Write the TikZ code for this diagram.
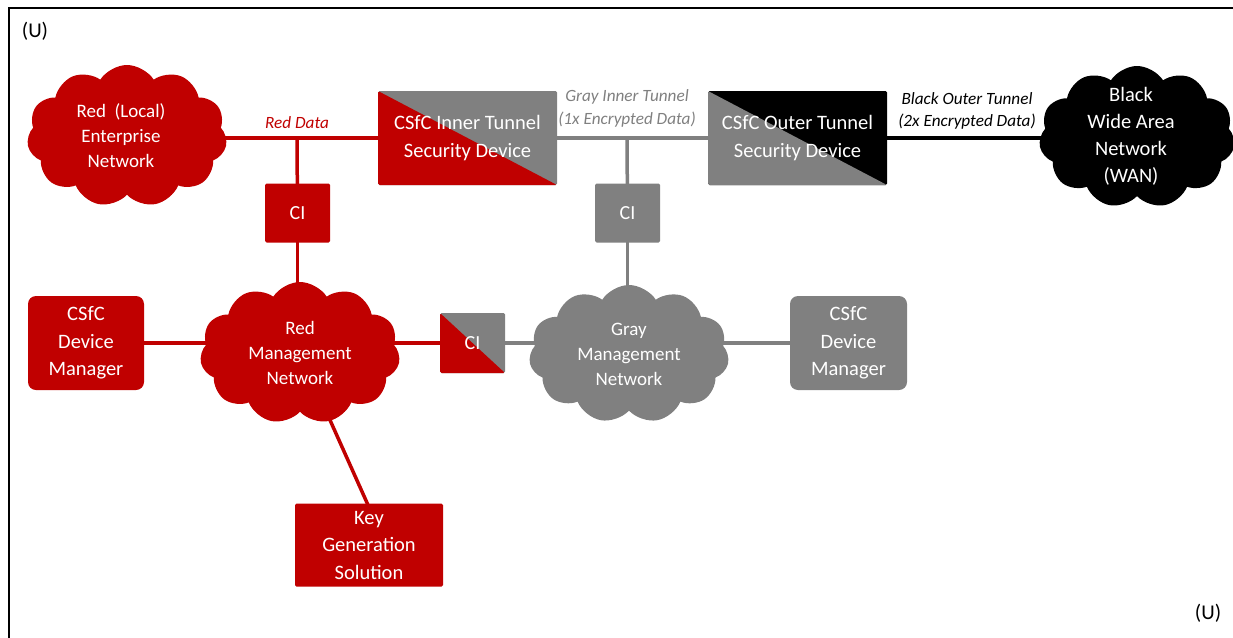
\documentclass[tikz,border=0pt]{standalone}
\usepackage{fontspec}
\setmainfont{Carlito}
\usetikzlibrary{shapes.symbols,backgrounds}
\definecolor{cred}{HTML}{C00000}
\definecolor{cgray}{HTML}{808080}
\begin{document}
\begin{tikzpicture}[x=1pt,y=-1pt,
  txt/.style={font=\fontsize{19}{25}\selectfont, text=white, align=center},
  btxt/.style={font=\fontsize{20.5}{27.5}\selectfont, text=white, align=center},
  lbl/.style={font=\fontsize{17.2}{22.5}\selectfont\itshape, align=center},
  box/.style={btxt, rectangle, inner sep=0pt},
  cloudn/.style={cloud, cloud puffs=11, cloud puff arc=115, cloud ignores aspect, txt, inner sep=0pt},
  lowerleft/.style={path picture={\fill[#1] (path picture bounding box.north west) -- (path picture bounding box.south east) -- (path picture bounding box.south west) -- cycle;}},
  redline/.style={draw=cred, line width=3.5pt},
  grayline/.style={draw=cgray, line width=3.5pt},
  blackline/.style={draw=black, line width=4pt},
  citxt/.style={font=\fontsize{20}{24}\selectfont},
]
\useasboundingbox (0,0) rectangle (1233,637);
\draw[line width=2.2pt] (9,660) -- (9,8) -- (1260,8);
\node[font=\fontsize{21}{24}\selectfont] (u1) at (35,31) {(U)};
\node[font=\fontsize{21}{24}\selectfont] (u2) at (1208,613) {(U)};

% top row
\node[cloudn, fill=cred, minimum width=200, minimum height=142] (ren) at (127,136) {};
\node[txt] (rent) at (121,136) {Red~~(Local)\\Enterprise\\Network};
\node[box, fill=cgray, lowerleft=cred, minimum width=179, minimum height=94, rounded corners=1.5pt] (itd) at (467.5,138) {CSfC Inner Tunnel\\Security Device};
\node[box, fill=black, lowerleft=cgray, minimum width=179, minimum height=94, rounded corners=1.5pt] (otd) at (797.5,138) {CSfC Outer Tunnel\\Security Device};
\node[cloudn, fill=black, minimum width=196, minimum height=142] (wan) at (1137,137) {};
\node[btxt, font=\fontsize{20.5}{27}\selectfont] (want) at (1131,136) {Black\\Wide Area\\Network\\(WAN)};

\node[lbl, text=cred] (rdl) at (297,123) {Red Data};
\node[lbl, text=cgray] (gil) at (627,108.5) {Gray Inner Tunnel\\(1x Encrypted Data)};
\node[lbl, text=black] (bol) at (967,111) {Black Outer Tunnel\\(2x Encrypted Data)};

\coordinate (rd) at (297,138);
\coordinate (gd) at (627,138);

% CI boxes
\node[box, citxt, fill=cred, minimum width=65, minimum height=59, rounded corners=1.5pt] (ci1) at (297.5,213) {CI};
\node[box, citxt, fill=cgray, minimum width=65, minimum height=59, rounded corners=1.5pt] (ci2) at (627.5,213) {CI};

% middle row
\node[box, fill=cred, minimum width=116, minimum height=94, rounded corners=8pt] (rdm) at (86,343) {CSfC\\Device\\Manager};
\node[cloudn, fill=cred, minimum width=200, minimum height=142] (rm) at (300,353) {Red\\Management\\Network};
\node[box, citxt, fill=cgray, lowerleft=cred, minimum width=65, minimum height=60, rounded corners=1.5pt] (cis) at (472.5,343) {CI};
\node[cloudn, fill=cgray, minimum width=200, minimum height=138] (gm) at (629,354) {Gray\\Management\\Network};
\node[box, fill=cgray, minimum width=117, minimum height=94, rounded corners=8pt] (gdm) at (848.5,343) {CSfC\\Device\\Manager};

% bottom
\node[box, fill=cred, minimum width=148, minimum height=83, rounded corners=1.5pt] (kg) at (369,545) {Key\\Generation\\Solution};
\coordinate (kgt) at (368,505);

\begin{scope}[on background layer]
\draw[redline] (ren.center |- itd.center) -- (itd.center);
\draw[redline] (rd) -- (ci1.center);
\draw[redline] (ci1.center) -- (ci1.center |- rm.center);
\draw[grayline] (itd.center) -- (otd.center);
\draw[grayline] (gd) -- (ci2.center);
\draw[grayline] (ci2.center) -- (ci2.center |- gm.center);
\draw[blackline] (otd.center) -- (otd.center -| wan.center);
\draw[redline] (rdm.center) -- (rdm.center -| rm.center);
\draw[redline] (rm.center |- cis.center) -- (cis.center);
\draw[grayline] (cis.center) -- (cis.center -| gm.center);
\draw[grayline] (gm.center |- gdm.center) -- (gdm.center);
\draw[redline] (rm.center) -- (kgt);
\end{scope}
\end{tikzpicture}
\end{document}
